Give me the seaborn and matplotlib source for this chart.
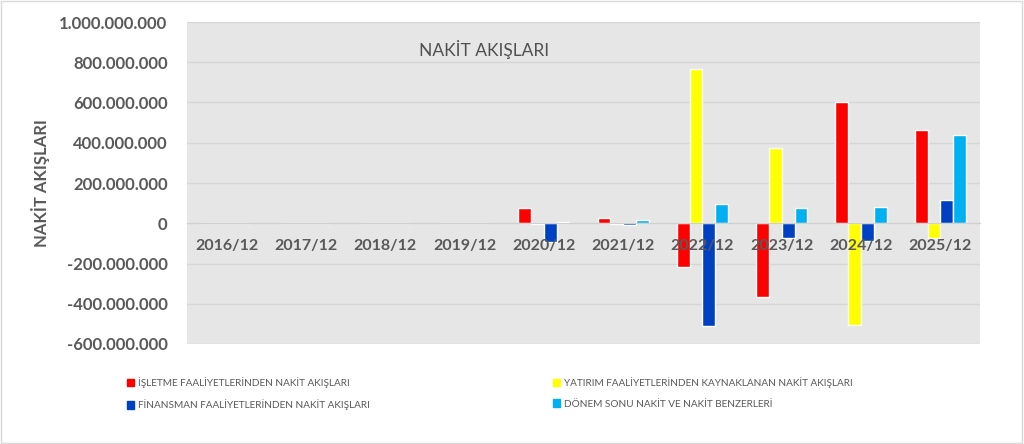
import matplotlib
matplotlib.use("Agg")
import matplotlib.pyplot as plt
from matplotlib.patches import Patch, Rectangle
from matplotlib.ticker import FuncFormatter
import pandas as pd
import seaborn as sns

years = ["2016/12", "2017/12", "2018/12", "2019/12", "2020/12",
         "2021/12", "2022/12", "2023/12", "2024/12", "2025/12"]
isletme = [0, 0, 0, 0, 75e6, 25e6, -219e6, -368e6, 602e6, 463e6]
yatirim = [0, 0, 0, 0, -3e6, -3e6, 766e6, 373e6, -507e6, -75e6]
finansman = [0, 0, 0, 0, -95e6, -10e6, -512e6, -75e6, -90e6, 114e6]
donem_sonu = [0, 0, 0, 0, 8e6, 15e6, 95e6, 78e6, 80e6, 438e6]

series_names = ["İŞLETME FAALİYETLERİNDEN NAKİT AKIŞLARI",
                "YATIRIM FAALİYETLERİNDEN KAYNAKLANAN NAKİT AKIŞLARI",
                "FİNANSMAN FAALİYETLERİNDEN NAKİT AKIŞLARI",
                "DÖNEM SONU NAKİT VE NAKİT BENZERLERİ"]
colors = ["#FF0000", "#FFFF00", "#0041C4", "#00B0F0"]

rows = []
for name, vals in zip(series_names, [isletme, yatirim, finansman, donem_sonu]):
    for y, v in zip(years, vals):
        rows.append({"year": y, "series": name, "value": v})
df = pd.DataFrame(rows)

sns.set_style("white")
plt.rcParams["font.family"] = ["Lato", "DejaVu Sans"]
txt = "#595959"

fig = plt.figure(figsize=(10.24, 4.44), dpi=100)
ax = fig.add_axes([187/1024, 1 - 344/444, 793/1024, 322/444])
ax.set_facecolor("#E7E6E6")

sns.barplot(data=df, x="year", y="value", hue="series", order=years,
            hue_order=series_names, palette=colors, width=0.645,
            saturation=1, legend=False, ax=ax)

ax.set_ylim(-600e6, 1000e6)
ax.set_yticks(range(-600_000_000, 1_000_000_001, 200_000_000))
ax.yaxis.set_major_formatter(FuncFormatter(lambda v, p: f"{int(v):,}".replace(",", ".")))
ax.yaxis.grid(True, color="#D6D6D6", lw=1)
ax.set_axisbelow(True)
ax.xaxis.set_zorder(5)  # year labels sit on top of the bars
for s in ["top", "right", "left"]:
    ax.spines[s].set_visible(False)
ax.spines["bottom"].set_position(("data", 0))
ax.spines["bottom"].set_color("#D0D0D0")
ax.tick_params(axis="x", length=0, pad=11, labelsize=11.5, labelcolor=txt)
ax.tick_params(axis="y", length=0, pad=14, labelsize=12, labelcolor=txt)
for lab in ax.get_xticklabels() + ax.get_yticklabels():
    lab.set_fontweight("bold")
ax.set_xlabel("")
ax.set_ylabel("NAKİT AKIŞLARI", fontsize=12, fontweight="bold", color=txt, labelpad=7)

ax.text(0.375, 0.915, "NAKİT AKIŞLARI", transform=ax.transAxes, fontsize=12.5,
        color="#505050", ha="center", va="center")

handles = [Patch(color=colors[i], label=series_names[i]) for i in [0, 2, 1, 3]]
fig.legend(handles=handles, ncol=2, loc="upper left", frameon=False,
           bbox_to_anchor=(118/1024, 1 - 368/444), fontsize=7.2,
           labelcolor=txt, handlelength=0.7, handleheight=0.8,
           handletextpad=0.4, columnspacing=18.3, labelspacing=1.15)

fig.patches.append(Rectangle((0.001, 0.002), 0.997, 0.995, transform=fig.transFigure,
                             fill=False, edgecolor="#D9D9D9", lw=1))

fig.savefig("out.png", dpi=100)
